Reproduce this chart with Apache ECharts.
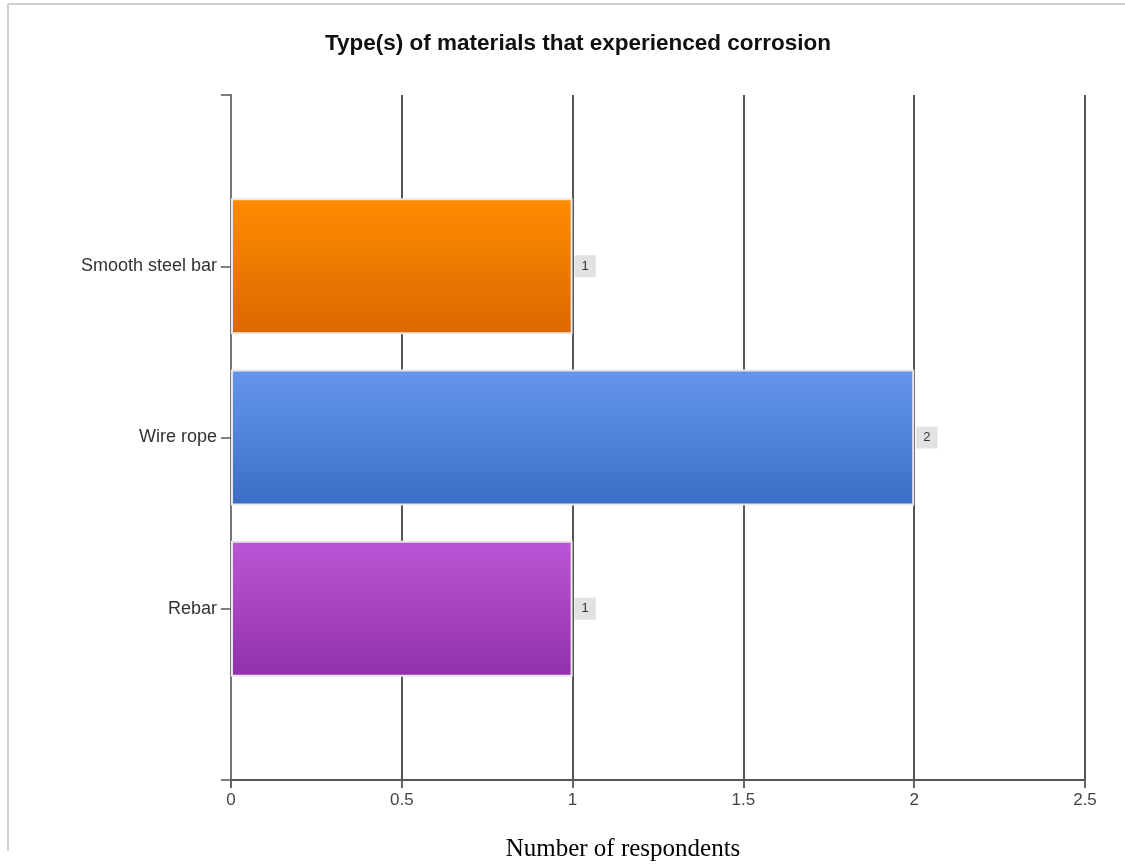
<!DOCTYPE html>
<html>
<head>
<meta charset="utf-8">
<title>Type(s) of materials that experienced corrosion</title>
<script src="https://cdn.jsdelivr.net/npm/echarts@6/dist/echarts.min.js"></script>
<style>
  html, body { margin: 0; padding: 0; background: #fff; }
  #chart { width: 1125px; height: 866px; }
</style>
</head>
<body>
<div id="chart"></div>
<script>
// Materials, bottom to top
const categories = ['Rebar', 'Wire rope', 'Smooth steel bar'];
const respondents = [1, 2, 1];
const xTickValues = [0, 0.5, 1, 1.5, 2, 2.5];

// top and bottom colour of each bar's gradient
const barColors = [
  ['#BC56D6', '#9230AB'],
  ['#6596EC', '#3A6EC6'],
  ['#FF8C00', '#D96800']
];

// pad the category axis with blank slots so ticks sit at both ends
const axisCategories = [''].concat(categories, ['']);
const barData = [null].concat(respondents.map(function (v, i) {
  return {
    value: v,
    itemStyle: {
      color: new echarts.graphic.LinearGradient(0, 0, 0, 1, [
        { offset: 0, color: barColors[i][0] },
        { offset: 1, color: barColors[i][1] }
      ])
    }
  };
}), [null]);

const chart = echarts.init(document.getElementById('chart'));
chart.setOption({
  animation: false,
  backgroundColor: '#ffffff',
  title: {
    text: 'Type(s) of materials that experienced corrosion',
    left: 573,
    top: 27,
    textAlign: 'center',
    textStyle: {
      fontFamily: 'Liberation Sans, Arial, sans-serif',
      fontSize: 22.5,
      fontWeight: 'bold',
      color: '#111'
    }
  },
  grid: { left: 231, right: 40, top: 95, bottom: 86, containLabel: false },
  xAxis: {
    type: 'value',
    min: 0,
    max: 2.5,
    interval: 0.5,
    axisLine: { show: true, lineStyle: { color: '#555', width: 2 } },
    axisTick: { show: true, length: 8, lineStyle: { color: '#666', width: 2 } },
    axisLabel: {
      margin: 12,
      fontFamily: 'Liberation Sans, Arial, sans-serif',
      fontSize: 17,
      color: '#444',
      formatter: function (v) {
        return xTickValues.indexOf(v) >= 0 ? String(v) : '';
      }
    },
    splitLine: { show: true, lineStyle: { color: '#555', width: 2 } }
  },
  yAxis: {
    type: 'category',
    data: axisCategories,
    boundaryGap: false,
    axisLine: { show: true, lineStyle: { color: '#777', width: 2 } },
    axisTick: { show: true, length: 10, alignWithLabel: true, lineStyle: { color: '#555', width: 1.5 } },
    axisLabel: {
      margin: 14,
      fontFamily: 'Liberation Sans, Arial, sans-serif',
      fontSize: 18,
      color: '#333',
      interval: 0
    },
    splitLine: { show: false }
  },
  series: [{
    type: 'bar',
    data: barData,
    barWidth: 136,
    itemStyle: { borderColor: '#e8e8e8', borderWidth: 2 },
    label: {
      show: true,
      position: 'right',
      distance: 2,
      fontFamily: 'Liberation Sans, Arial, sans-serif',
      fontSize: 13,
      color: '#333',
      backgroundColor: '#e2e2e2',
      padding: [5, 7, 4, 7]
    }
  }],
  graphic: [
    {
      type: 'line',
      shape: { x1: 8, y1: 4, x2: 1125, y2: 4 },
      style: { stroke: '#d0d0d0', lineWidth: 2 }
    },
    {
      type: 'line',
      shape: { x1: 8, y1: 4, x2: 8, y2: 851 },
      style: { stroke: '#d0d0d0', lineWidth: 2 }
    },
    {
      type: 'text',
      style: {
        text: 'Number of respondents',
        x: 623,
        y: 849,
        textAlign: 'center',
        textVerticalAlign: 'middle',
        font: '25px "Liberation Serif", "Times New Roman", serif',
        fill: '#000'
      }
    }
  ]
});
</script>
</body>
</html>
